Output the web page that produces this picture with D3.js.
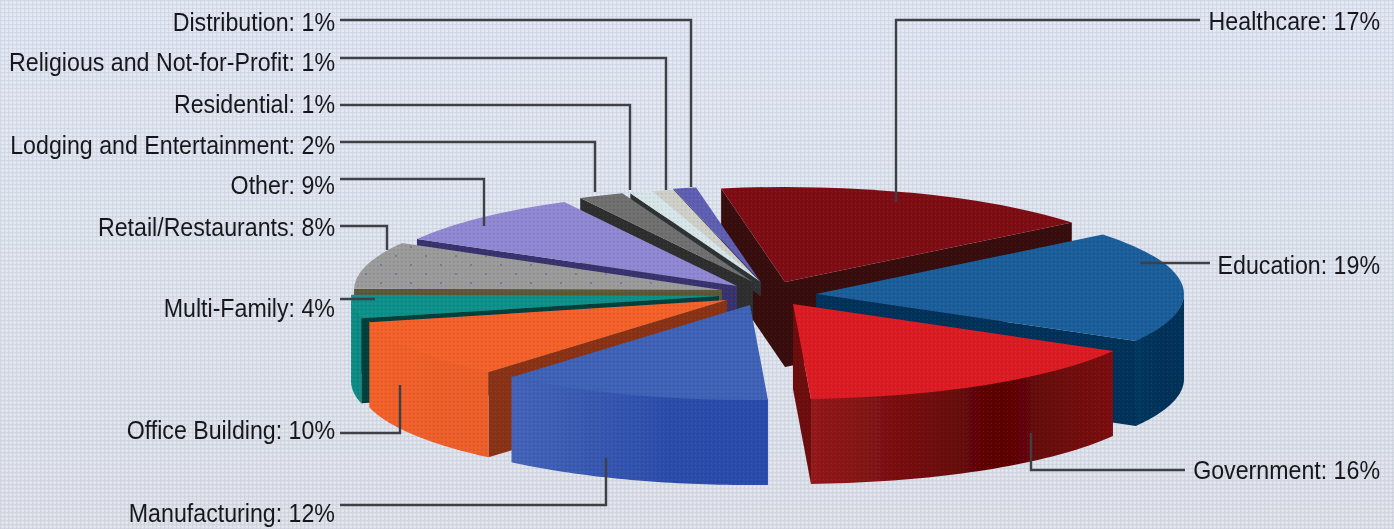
<!DOCTYPE html>
<html>
<head>
<meta charset="utf-8">
<script src="https://cdnjs.cloudflare.com/ajax/libs/d3/7.8.5/d3.min.js"></script>
<style>
html, body { margin: 0; padding: 0; background: #dde3ed; overflow: hidden; }
svg { display: block; }
text { font-family: "Liberation Sans", Arial, sans-serif; font-size: 26px; fill: #17181c; }
</style>
</head>
<body>
<div id="chart"></div>
<script>
var width = 1394, height = 529;

// Chart values, clockwise from the top
var categories = ["Healthcare", "Education", "Government", "Manufacturing", "Office Building", "Multi-Family",
    "Retail/Restaurants", "Other", "Lodging and Entertainment", "Residential", "Religious and Not-for-Profit", "Distribution"];
var shares = [17, 19, 16, 12, 10, 4, 8, 9, 2, 1, 1, 1];

// Colours per slice
var topColors = ["#7f0e12", "#1a5e9b", "#dc1d24", "#3f63b8", "#f4622c", "#0d918a", "#9b9b9b", "#9088d2", "#6f6f6f", "#d6e6e9", "#d0d0ca", "#5f5fb4"];
var cutColors = ["#380a0c", "#03325a", "#6e0a0c", "#24408f", "#8a3316", "#013f3d", "#5e5838", "#38336e", "#2f2f2f", "#2f3336", "#303030", "#2c2c50"];
var wallLeft = ["#380a0c", "#04385f", "#941a1b", "#4465b8", "#f4622c", "#0d918a", "#777777", "#5f5aa0", "#444444", "#8fa0a4", "#8a8a86", "#3d3d86"];
var wallMid = ["#380a0c", "#03315a", "#5c0304", "#2c4dac", "#ee5f2b", "#0d8a84", "#777777", "#5f5aa0", "#444444", "#8fa0a4", "#8a8a86", "#3d3d86"];
var wallRight = ["#380a0c", "#03345a", "#7c1012", "#2a4cab", "#ef5f2b", "#118c87", "#777777", "#5f5aa0", "#444444", "#8fa0a4", "#8a8a86", "#3d3d86"];

// Pie layout: ellipse radii, extrusion, and how far each slice is pulled out
var cx = 745, cy = 293, rx = 368, ry = 95;
var depth = [85, 85, 85, 85, 85, 85, 85, 85, 85, 14, 14, 14];
var pullX = [40, 71, 48, 5, -18, -26, -23, -8, 8, 16, 15, 15];
var pullY = [-11, 1, 11, 12, 7, 3, -3, -7, -11, -11, -11, -12];
var drawOrder = [0, 11, 10, 9, 8, 7, 6, 1, 5, 4, 2, 3];

// Callouts: label end, baseline, and the leader line running from the label into the slice
var labelSide = ["right", "right", "right", "left", "left", "left", "left", "left", "left", "left", "left", "left"];
var labelBase = [30, 274, 479, 522, 439, 317, 236, 194, 154, 113, 71, 31];
var labelSquash = 0.892;
var leaders = [
    [[1200, 20], [896, 20], [896, 202]],
    [[1210, 263], [1140, 263]],
    [[1185, 470], [1031, 470], [1031, 433]],
    [[340, 505], [606, 505], [606, 458]],
    [[340, 433], [400, 433], [400, 385]],
    [[340, 299], [375, 299]],
    [[340, 226], [387, 226], [387, 250]],
    [[340, 179], [484, 179], [484, 226]],
    [[340, 142], [595, 142], [595, 192]],
    [[340, 105], [630, 105], [630, 190]],
    [[340, 58], [666, 58], [666, 190]],
    [[340, 20], [691, 20], [691, 187]]
];

var svg = d3.select("#chart").append("svg")
    .attr("width", width)
    .attr("height", height);

var defs = svg.append("defs");

var bgGrad = defs.append("linearGradient")
    .attr("id", "bg")
    .attr("x1", 0).attr("y1", 0).attr("x2", 0).attr("y2", 1);
bgGrad.append("stop").attr("offset", 0).attr("stop-color", "#dee5f0");
bgGrad.append("stop").attr("offset", 1).attr("stop-color", "#dadfe6");

// Print screen left on the scanned picture
var mesh = defs.append("pattern")
    .attr("id", "mesh")
    .attr("width", 4).attr("height", 4)
    .attr("patternUnits", "userSpaceOnUse");
mesh.append("rect").attr("width", 4).attr("height", 1).attr("fill", "#a8a4c8").attr("opacity", 0.16);
mesh.append("rect").attr("width", 1).attr("height", 4).attr("fill", "#a8a4c8").attr("opacity", 0.16);
mesh.append("rect").attr("x", 2).attr("y", 2).attr("width", 1.5).attr("height", 1.5).attr("fill", "#ffffff").attr("opacity", 0.4);

var fine = defs.append("pattern")
    .attr("id", "fine")
    .attr("width", 4).attr("height", 4)
    .attr("patternUnits", "userSpaceOnUse");
fine.append("rect").attr("x", 1).attr("y", 1).attr("width", 1.5).attr("height", 1.5).attr("fill", "#000000").attr("opacity", 0.1);
fine.append("rect").attr("x", 3).attr("y", 3).attr("width", 1).attr("height", 1).attr("fill", "#ffffff").attr("opacity", 0.06);

var dots = defs.append("pattern")
    .attr("id", "dots")
    .attr("width", 30).attr("height", 18)
    .attr("patternUnits", "userSpaceOnUse");
dots.append("circle").attr("cx", 6).attr("cy", 4).attr("r", 1.1).attr("fill", "#66668c").attr("opacity", 0.8);
dots.append("circle").attr("cx", 21).attr("cy", 13).attr("r", 1.1).attr("fill", "#66668c").attr("opacity", 0.8);

var blur = defs.append("filter").attr("id", "soft");
blur.append("feGaussianBlur").attr("stdDeviation", 0.55);

svg.append("rect").attr("width", width).attr("height", height).attr("fill", "url(#bg)");
svg.append("rect").attr("width", width).attr("height", height).attr("fill", "url(#mesh)");

var pie = d3.pie()
    .sort(null)
    .startAngle(-10 * Math.PI / 180)
    .endAngle(350 * Math.PI / 180);

var slices = pie(shares);

var arcTop = d3.arc().innerRadius(0).outerRadius(rx);
var flat = ry / rx;

// Point on a slice's top face at a given angle, 0 is up and angles run clockwise
function rim(i, a, r) {
    return [cx + pullX[i] + r * rx * Math.sin(a), cy + pullY[i] - r * ry * Math.cos(a)];
}

function sweep(a0, a1) {
    return d3.range(0, 41).map(function (k) { return a0 + (a1 - a0) * k / 40; });
}

var outline = d3.line();

// Fill a screen-space outline, then lay the print dither over it
function face(g, pts, fill) {
    var dPath = outline(pts) + "Z";
    g.append("path").attr("d", dPath).attr("fill", fill);
    g.append("path").attr("d", dPath).attr("fill", "url(#fine)");
}

// Wall gradients run across the visible rim
slices.forEach(function (d, i) {
    var g = defs.append("linearGradient")
        .attr("id", "wall" + i)
        .attr("x1", 0).attr("y1", 0).attr("x2", 1).attr("y2", 0);
    g.append("stop").attr("offset", 0).attr("stop-color", wallLeft[i]);
    g.append("stop").attr("offset", 0.62).attr("stop-color", wallMid[i]);
    g.append("stop").attr("offset", 1).attr("stop-color", wallRight[i]);
});

var pieG = svg.append("g").attr("filter", "url(#soft)");

drawOrder.forEach(function (i) {
    var d = slices[i];
    var g = pieG.append("g").attr("class", "slice");

    // Cut faces, only those turned towards the viewer
    [[d.startAngle, Math.sin(d.startAngle) < 0], [d.endAngle, Math.sin(d.endAngle) > 0]].forEach(function (cut) {
        if (!cut[1]) return;
        var apex = rim(i, 0, 0);
        var corner = rim(i, cut[0], 1);
        face(g, [apex, corner, [corner[0], corner[1] + depth[i]], [apex[0], apex[1] + depth[i]]], cutColors[i]);
    });

    // Outer wall, the front half of the rim only. Its top edge tucks under the top face
    var a0 = Math.max(d.startAngle, Math.PI / 2);
    var a1 = Math.min(d.endAngle, 3 * Math.PI / 2);
    if (a1 > a0) {
        var upper = sweep(a0, a1).map(function (a) {
            var p = rim(i, a, 1);
            return [p[0], p[1] - 1];
        });
        var lower = sweep(a0, a1).reverse().map(function (a) {
            var p = rim(i, a, 1);
            return [p[0], p[1] + depth[i]];
        });
        face(g, upper.concat(lower), "url(#wall" + i + ")");
    }

    // Top face
    g.append("path")
        .attr("d", arcTop(d))
        .attr("transform", "translate(" + (cx + pullX[i]) + "," + (cy + pullY[i]) + ") scale(1," + flat + ")")
        .attr("fill", topColors[i]);
    var topOutline = [rim(i, 0, 0)].concat(sweep(d.startAngle, d.endAngle).map(function (a) { return rim(i, a, 1); }));
    g.append("path").attr("d", outline(topOutline) + "Z").attr("fill", "url(#fine)");
    if (categories[i] === "Retail/Restaurants") {
        g.append("path").attr("d", outline(topOutline) + "Z").attr("fill", "url(#dots)");
    }
});

// Leaders and labels
svg.append("g")
    .selectAll("path")
    .data(leaders)
    .enter()
    .append("path")
    .attr("d", function (d) { return outline(d); })
    .attr("fill", "none")
    .attr("stroke", "#3f4046")
    .attr("stroke-width", 2.4);

svg.append("g")
    .attr("filter", "url(#soft)")
    .selectAll("text")
    .data(categories)
    .enter()
    .append("text")
    .attr("transform", function (d, i) {
        var x = labelSide[i] === "left" ? 335 : 1380;
        return "translate(" + x + "," + labelBase[i] + ") scale(" + labelSquash + ",1)";
    })
    .attr("text-anchor", "end")
    .text(function (d, i) { return d + ": " + shares[i] + "%"; });
</script>
</body>
</html>
